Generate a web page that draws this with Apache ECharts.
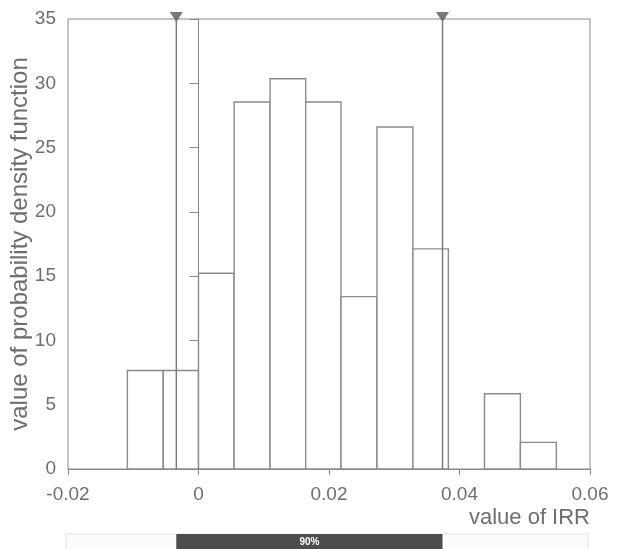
<!DOCTYPE html>
<html>
<head>
<meta charset="utf-8">
<style>
  html, body { margin: 0; padding: 0; background: #fff; }
  #main { width: 622px; height: 549px; }
</style>
<script src="https://cdn.jsdelivr.net/npm/echarts@6/dist/echarts.min.js"></script>
</head>
<body>
<div id="main"></div>
<script>
// histogram of IRR values (bin edges and density heights)
const binEdges = [-0.0109, -0.0054, 0, 0.00546, 0.01097, 0.01643, 0.02184, 0.02735, 0.03286, 0.03829, 0.04383, 0.04933, 0.05484];
const density = [7.66, 7.66, 15.23, 28.55, 30.35, 28.55, 13.41, 26.6, 17.12, 0, 5.85, 2.07];
// 90% interval bounds
const bounds = [-0.0034, 0.0374];
const intervalLabel = "90%";
const xTicks = [-0.02, 0, 0.02, 0.04, 0.06];

const grey = "#8a8a8a";
const textGrey = "#6e6e6e";
const font = "Liberation Sans, Arial, sans-serif";

const bins = density.map((d, i) => [binEdges[i], binEdges[i + 1], d]);

const chart = echarts.init(document.getElementById("main"));

// one vertical line per interval bound, full height of the plot
const boundLines = bounds.map(b => ({
  type: "line",
  xAxisIndex: 0, yAxisIndex: 0,
  data: [[b, 0], [b, 35]],
  symbol: "none",
  lineStyle: { color: "#777", width: 1.4 },
  silent: true
}));

chart.setOption({
  animation: false,
  backgroundColor: "#fff",
  grid: [
    { left: 68, right: 32, top: 19, bottom: 80, show: true, borderColor: grey, borderWidth: 1, outerBoundsMode: "none" },
    { left: 66, right: 34, top: 534, height: 20, show: true, borderColor: "#e2e2e2", borderWidth: 1, backgroundColor: "#fcfcfc", outerBoundsMode: "none" }
  ],
  xAxis: [
    {
      type: "value", gridIndex: 0, min: -0.02, max: 0.06, interval: 0.02,
      axisLine: { lineStyle: { color: grey } },
      axisTick: { show: true, length: 6, lineStyle: { color: grey } },
      splitLine: { show: false },
      axisLabel: {
        color: textGrey, fontSize: 19, fontFamily: font, margin: 16,
        formatter: v => xTicks.includes(+v.toFixed(2)) ? String(+v.toFixed(2)) : ""
      },
      name: "value of IRR", nameLocation: "end", nameGap: 0, nameMoveOverlap: false,
      nameTextStyle: { color: textGrey, fontSize: 22, fontFamily: font, align: "right", verticalAlign: "top", padding: [38, 0, 0, 0] }
    },
    // same scale as the plot; the strip sits 2px further left
    { type: "value", gridIndex: 1, min: -0.02 - 0.0003, max: 0.06 - 0.0003, show: false }
  ],
  yAxis: [
    {
      type: "value", gridIndex: 0, min: 0, max: 35, interval: 5,
      axisLine: { show: true, lineStyle: { color: grey } },
      axisTick: { show: true, length: 9, lineStyle: { color: grey } },
      splitLine: { show: false },
      axisLabel: { color: textGrey, fontSize: 19, fontFamily: font, margin: 12 },
      name: "value of probability density function", nameLocation: "middle", nameGap: 36, nameMoveOverlap: false,
      nameTextStyle: { color: textGrey, fontSize: 24, fontFamily: font }
    },
    { type: "value", gridIndex: 1, min: 0, max: 1, show: false }
  ],
  series: [
    {
      type: "custom",
      xAxisIndex: 0, yAxisIndex: 0,
      data: bins,
      renderItem: (params, api) => {
        const p0 = api.coord([api.value(0), 0]);
        const p1 = api.coord([api.value(1), api.value(2)]);
        if (api.value(2) <= 0) return null;
        return {
          type: "rect",
          shape: { x: p0[0], y: p1[1], width: p1[0] - p0[0], height: p0[1] - p1[1] },
          style: { fill: "#fff", stroke: grey, lineWidth: 1.4 }
        };
      }
    },
    ...boundLines,
    {
      type: "scatter",
      xAxisIndex: 0, yAxisIndex: 0,
      data: bounds.map(b => [b, 35]),
      symbol: "triangle", symbolRotate: 180, symbolSize: [13, 10], symbolOffset: [0, -2],
      itemStyle: { color: "#555" },
      clip: false, silent: true
    },
    {
      type: "custom",
      xAxisIndex: 1, yAxisIndex: 1,
      data: [[bounds[0], bounds[1]]],
      clip: false,
      renderItem: (params, api) => {
        const a = api.coord([api.value(0), 1]);
        const b = api.coord([api.value(1), 0]);
        return {
          type: "group",
          children: [
            { type: "rect", shape: { x: a[0], y: a[1], width: b[0] - a[0], height: b[1] - a[1] }, style: { fill: "#4d4d4d" } },
            { type: "text", style: { text: intervalLabel, x: (a[0] + b[0]) / 2, y: a[1] + 8, align: "center", verticalAlign: "middle", fill: "#fff", font: "bold 10px " + font } }
          ]
        };
      }
    }
  ]
});
</script>
</body>
</html>
